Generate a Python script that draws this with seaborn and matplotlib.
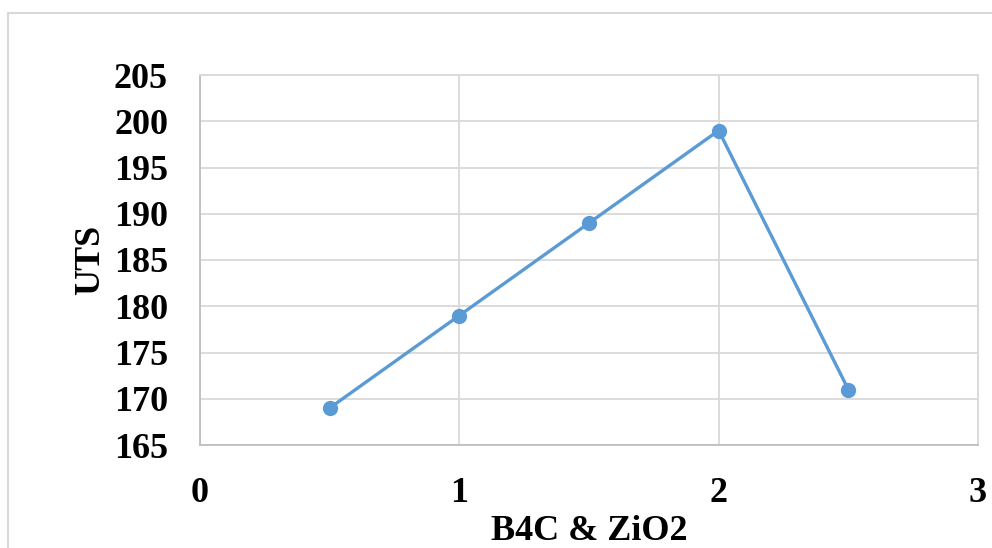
import matplotlib
matplotlib.use("Agg")
import matplotlib.pyplot as plt
from matplotlib.patches import Rectangle
import seaborn as sns
import pandas as pd

# B4C & ZiO2 content vs ultimate tensile strength
content = [0.5, 1.0, 1.5, 2.0, 2.5]
uts = [169, 179, 189, 199, 171]
x_ticks = [0, 1, 2, 3]
y_ticks = [165, 170, 175, 180, 185, 190, 195, 200, 205]

df = pd.DataFrame({"B4C & ZiO2": content, "UTS": uts})

sns.set_theme(style="white")
plt.rcParams["font.family"] = ["Liberation Serif", "DejaVu Serif"]
plt.rcParams["text.color"] = "black"
plt.rcParams["axes.labelcolor"] = "black"

W, H = 992, 548
fig = plt.figure(figsize=(W / 100, H / 100), dpi=100)
ax = fig.add_axes([200 / W, 1 - 445 / H, (978 - 200) / W, (445 - 75) / H])

line_color = "#5B9BD5"
sns.lineplot(data=df, x="B4C & ZiO2", y="UTS", ax=ax, color=line_color,
             linewidth=2.4, marker="o", markersize=11,
             markeredgewidth=0, markeredgecolor=line_color, zorder=3)

ax.set_xlim(0, 3)
ax.set_ylim(165, 205)
ax.set_xticks(x_ticks)
ax.set_yticks(y_ticks)
ax.set_xticklabels([str(t) for t in x_ticks])
ax.set_yticklabels([str(t) for t in y_ticks])

ax.grid(True, color="#D9D9D9", linewidth=1.3)
ax.set_axisbelow(True)
for side in ["top", "right"]:
    ax.spines[side].set_color("#D9D9D9")
    ax.spines[side].set_linewidth(1.3)
for side in ["left", "bottom"]:
    ax.spines[side].set_color("#BFBFBF")
    ax.spines[side].set_linewidth(1.3)

ax.tick_params(axis="both", length=0, labelsize=26, colors="black")
ax.tick_params(axis="y", pad=23)
ax.tick_params(axis="x", pad=23)
for lbl in ax.get_xticklabels() + ax.get_yticklabels():
    lbl.set_fontweight("bold")

ax.set_xlabel("B4C & ZiO2", fontsize=26, fontweight="bold", labelpad=4,
              color="black")
ax.set_ylabel("UTS", fontsize=26, fontweight="bold", labelpad=5,
              color="black")

# chart area border
fig.patches.append(Rectangle((8 / W, -0.1), 1.2, 1.1 - 13 / H,
                             transform=fig.transFigure, fill=False,
                             edgecolor="#D9D9D9", linewidth=1.5))

fig.savefig("out.png", dpi=100, facecolor="white")
